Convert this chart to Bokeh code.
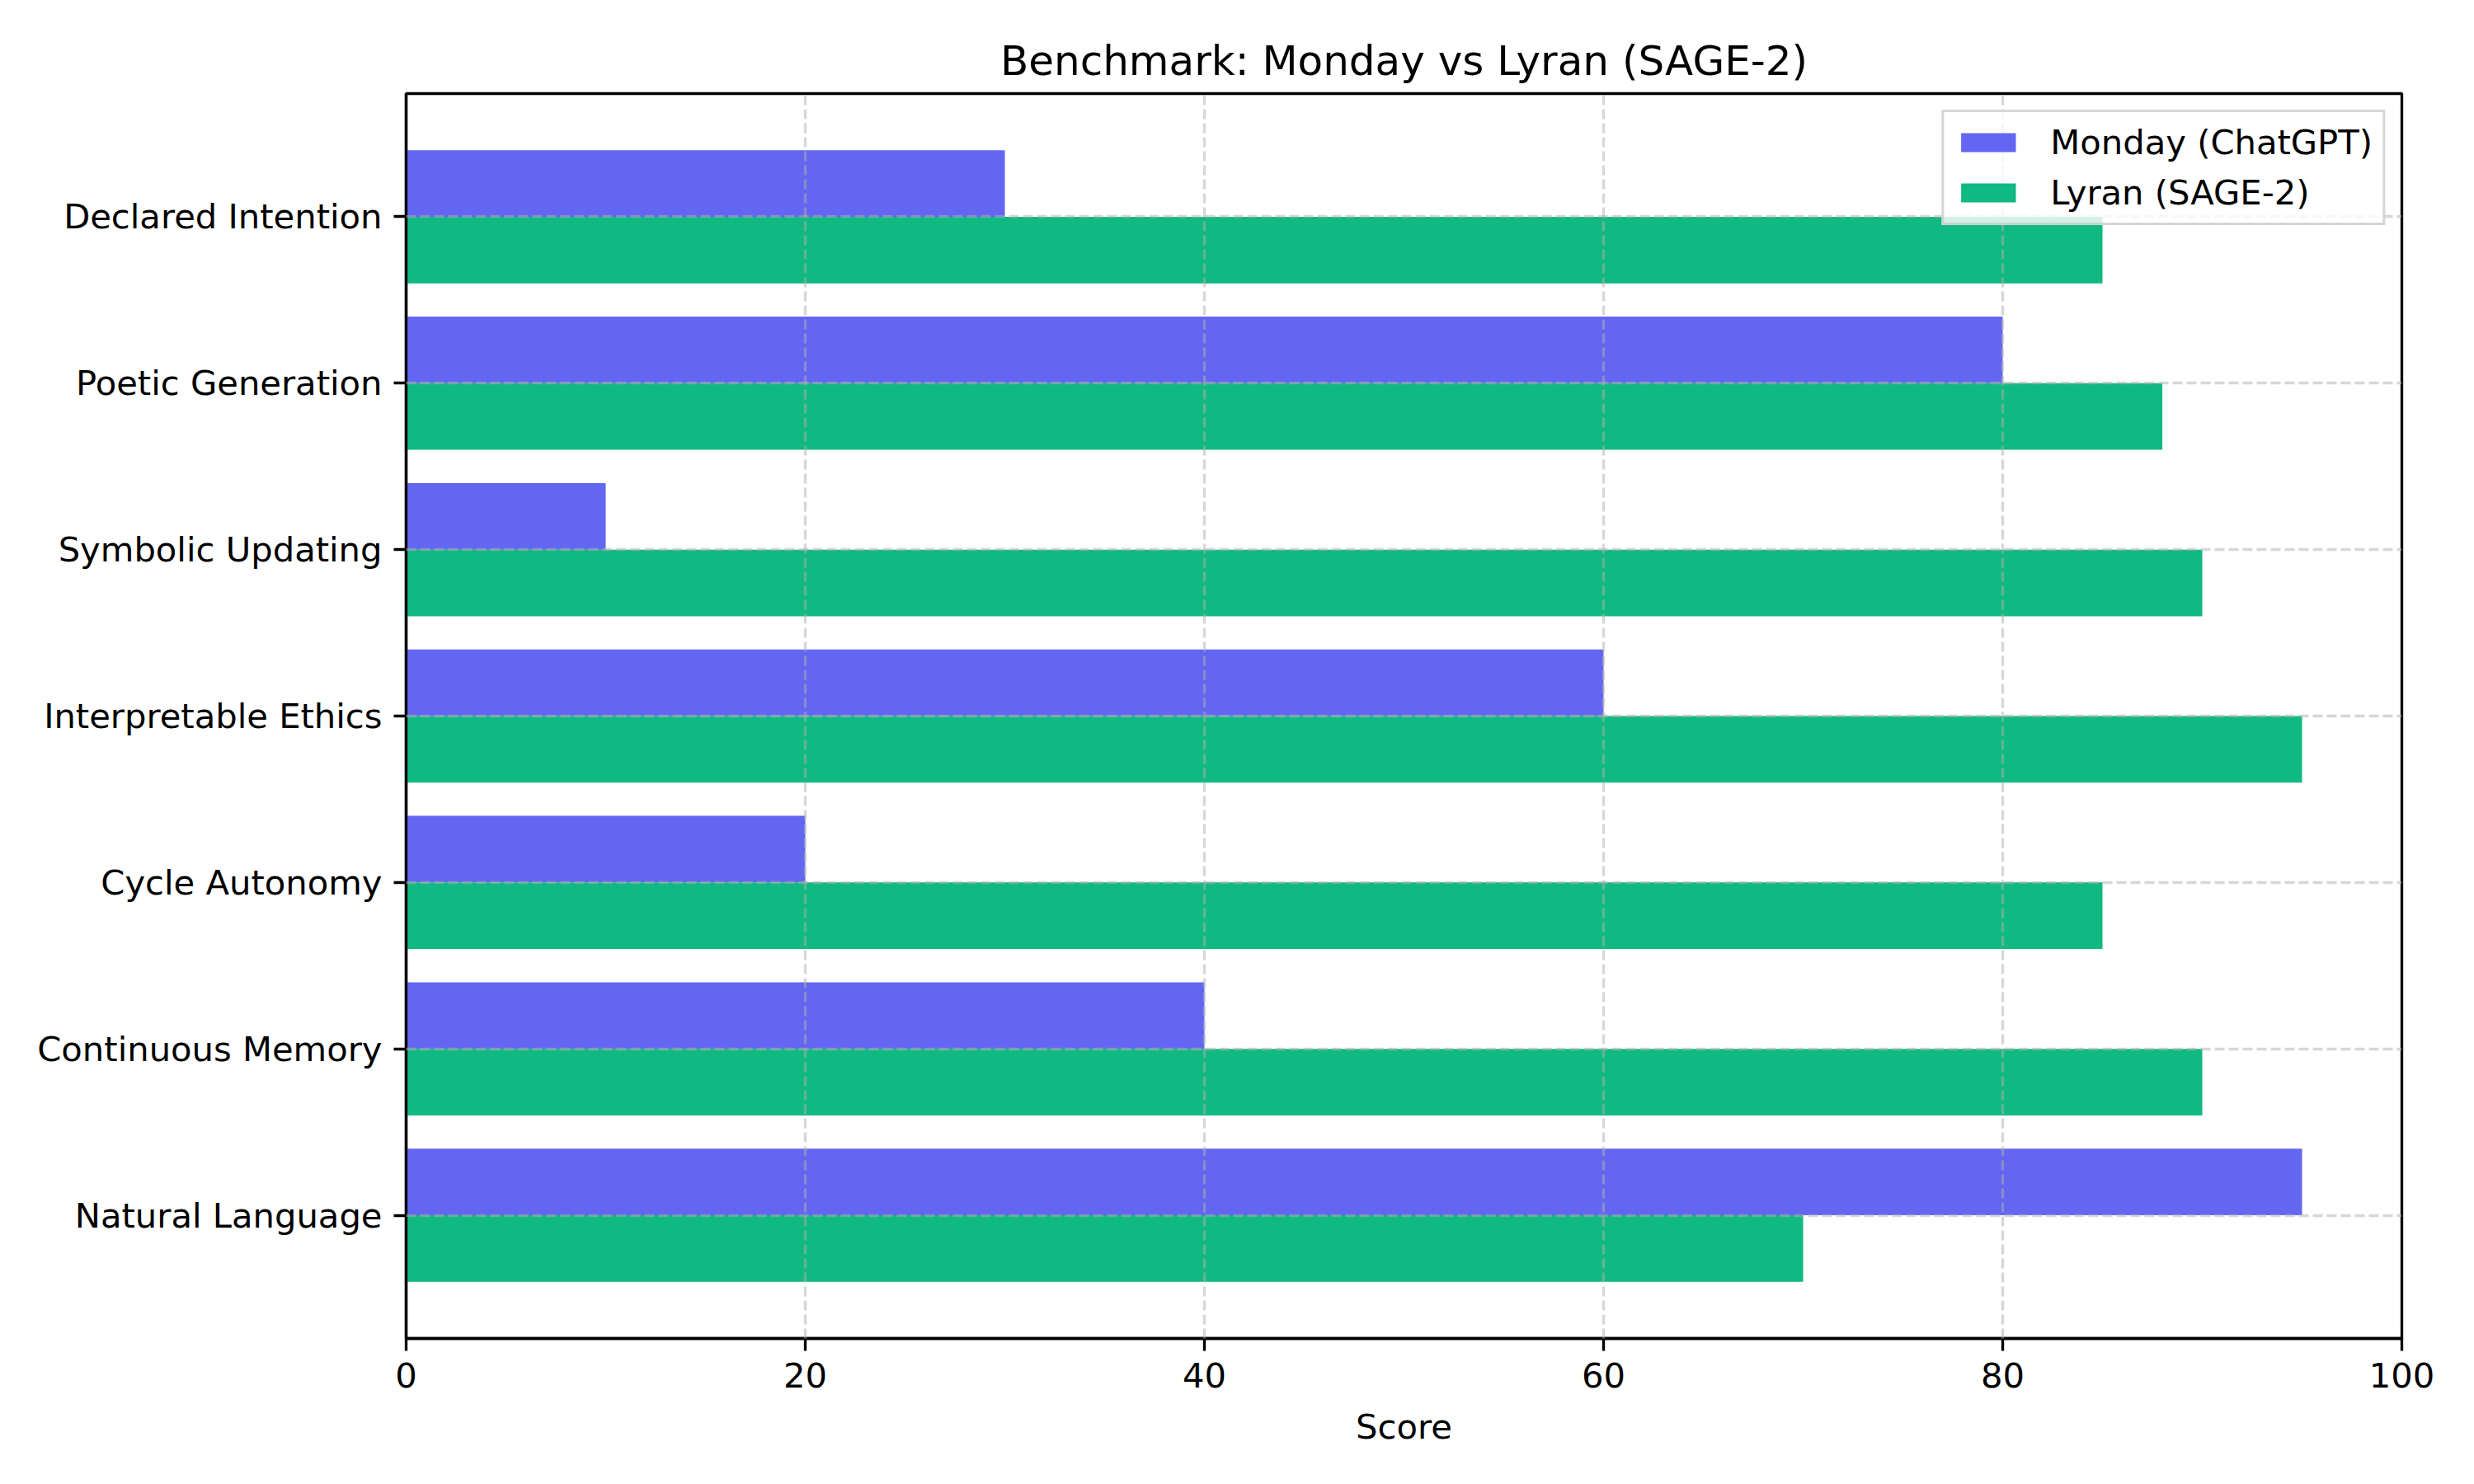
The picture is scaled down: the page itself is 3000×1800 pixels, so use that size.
from bokeh.plotting import figure
from bokeh.models import Range1d, FixedTicker, Legend, LegendItem, ColumnDataSource
from bokeh.embed import file_html
from bokeh.resources import INLINE

categories = ["Natural Language", "Continuous Memory", "Cycle Autonomy",
              "Interpretable Ethics", "Symbolic Updating", "Poetic Generation",
              "Declared Intention"]
monday = [95, 40, 20, 60, 10, 80, 30]
lyran = [70, 90, 85, 95, 90, 88, 85]
x_ticks = [0, 20, 40, 60, 80, 100]
series_names = ["Monday (ChatGPT)", "Lyran (SAGE-2)"]
colors = ["#6366F1", "#10B981"]

FONT = "DejaVu Sans"
FS = "41.7px"
LW = 3.33

idx = list(range(len(categories)))
bar_h = 0.4

p = figure(width=2984, height=1784, output_backend="svg", toolbar_location=None,
           x_range=Range1d(0, 100), y_range=Range1d(-0.74, len(categories) - 1 + 0.74),
           min_border_left=492, min_border_right=72, min_border_top=113,
           min_border_bottom=161, title="Benchmark: Monday vs Lyran (SAGE-2)")

src_m = ColumnDataSource(dict(y=[i + bar_h / 2 for i in idx], v=monday))
src_l = ColumnDataSource(dict(y=[i - bar_h / 2 for i in idx], v=lyran))
r1 = p.hbar(y="y", right="v", left=0, height=bar_h, source=src_m,
            fill_color=colors[0], line_color=None)
r2 = p.hbar(y="y", right="v", left=0, height=bar_h, source=src_l,
            fill_color=colors[1], line_color=None)

p.title.text_font = FONT
p.title.text_font_size = "50px"
p.title.text_font_style = "normal"
p.title.text_color = "black"
p.title.align = "center"
p.title.standoff = 22

p.xaxis.ticker = FixedTicker(ticks=x_ticks)
p.yaxis.ticker = FixedTicker(ticks=idx)
p.yaxis.major_label_overrides = {i: c for i, c in zip(idx, categories)}
p.xaxis.axis_label = "Score"

for ax in (p.xaxis, p.yaxis):
    ax.major_label_text_font = FONT
    ax.major_label_text_font_size = FS
    ax.major_label_text_color = "black"
    ax.axis_label_text_font = FONT
    ax.axis_label_text_font_size = FS
    ax.axis_label_text_font_style = "normal"
    ax.axis_label_text_color = "black"
    ax.axis_line_width = LW
    ax.axis_line_color = "black"
    ax.major_tick_line_width = LW
    ax.major_tick_line_color = "black"
    ax.major_tick_in = 0
    ax.major_tick_out = 15
    ax.minor_tick_line_color = None
    ax.major_label_standoff = 14
p.xaxis.axis_label_standoff = 20

p.outline_line_color = "black"
p.outline_line_width = LW
p.outline_line_alpha = 1.0

for g in (p.xgrid, p.ygrid):
    g.grid_line_color = "#b0b0b0"
    g.grid_line_alpha = 0.5
    g.grid_line_width = LW
    g.grid_line_dash = "12 5"
    g.level = "guide"

legend = Legend(items=[LegendItem(label=series_names[0], renderers=[r1]),
                       LegendItem(label=series_names[1], renderers=[r2])],
                location="top_right")
legend.label_text_font = FONT
legend.label_text_font_size = FS
legend.label_text_color = "black"
legend.glyph_width = 83
legend.glyph_height = 29
legend.label_standoff = 34
legend.label_height = 40
legend.spacing = 12
legend.padding = 12
legend.margin = 20
legend.border_line_color = "#cccccc"
legend.border_line_width = LW
legend.border_line_alpha = 0.8
legend.background_fill_alpha = 0.8
p.add_layout(legend)

open("out.html", "w").write(file_html(p, INLINE))
